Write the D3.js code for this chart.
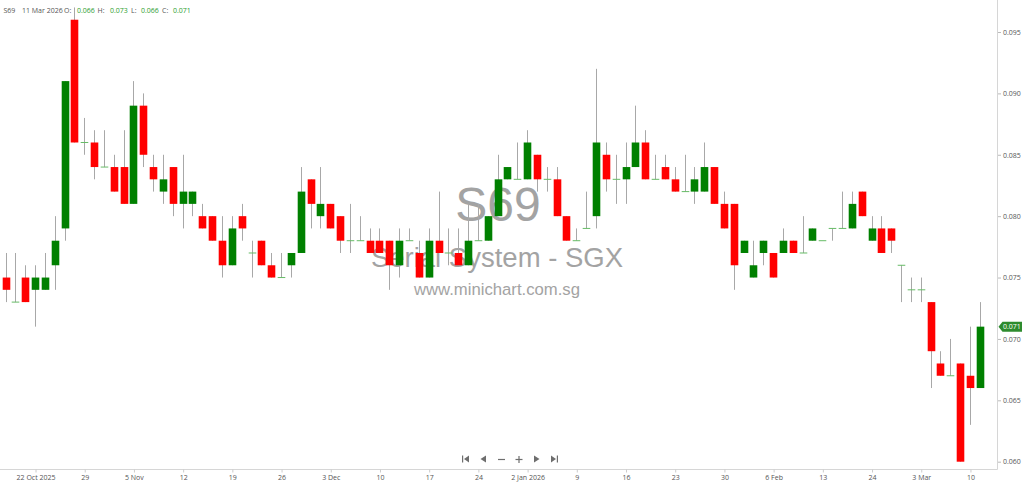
<!DOCTYPE html>
<html>
<head>
<meta charset="utf-8">
<script src="https://cdn.jsdelivr.net/npm/d3@7"></script>
<style>
  html, body { margin: 0; padding: 0; background: #fff; }
  svg { display: block; }
  .tick text { font-family: "Open Sans", "Liberation Sans", sans-serif; }
</style>
</head>
<body>
<svg id="chart" width="1024" height="484"></svg>
<script>
// ---------------- data ----------------
const symbol = "S69";
const companyName = "Serial System - SGX";
const siteName = "www.minichart.com.sg";
const lastDate = "11 Mar 2026";

const opens  = [0.075,0.073,0.075,0.074,0.074,0.076,0.079,0.096,0.086,0.086,
                0.084,0.084,0.084,0.081,0.089,0.084,0.082,0.084,0.081,0.081,
                0.080,0.080,0.078,0.076,0.080,0.077,0.078,0.076,0.075,0.076,
                0.077,0.083,0.080,0.081,0.080,0.078,0.078,0.078,0.078,0.078,
                0.076,0.078,0.077,0.075,0.078,0.077,0.077,0.076,0.078,0.078,
                0.080,0.083,0.083,0.083,0.085,0.083,0.083,0.080,0.078,0.079,
                0.080,0.085,0.083,0.083,0.084,0.086,0.083,0.084,0.083,0.082,
                0.082,0.082,0.084,0.081,0.081,0.077,0.075,0.077,0.077,0.077,
                0.078,0.077,0.078,0.078,0.079,0.079,0.079,0.082,0.078,0.079,
                0.079,0.076,0.074,0.074,0.073,0.068,0.067,0.068,0.067,0.066];
const highs  = [0.077,0.077,0.076,0.076,0.077,0.080,0.091,0.097,0.088,0.087,
                0.087,0.085,0.087,0.091,0.090,0.085,0.085,0.084,0.085,0.082,
                0.081,0.080,0.080,0.080,0.081,0.078,0.078,0.077,0.077,0.077,
                0.084,0.083,0.084,0.081,0.080,0.081,0.080,0.079,0.079,0.078,
                0.079,0.079,0.078,0.079,0.082,0.079,0.079,0.081,0.081,0.080,
                0.085,0.084,0.086,0.087,0.085,0.084,0.084,0.080,0.079,0.082,
                0.092,0.086,0.085,0.086,0.089,0.087,0.085,0.085,0.084,0.085,
                0.084,0.086,0.084,0.082,0.081,0.078,0.078,0.078,0.077,0.079,
                0.078,0.080,0.079,0.078,0.079,0.082,0.082,0.082,0.080,0.080,
                0.079,0.076,0.075,0.075,0.073,0.069,0.070,0.068,0.071,0.073];
const lows   = [0.073,0.073,0.073,0.071,0.074,0.074,0.078,0.086,0.085,0.083,
                0.084,0.082,0.081,0.081,0.084,0.082,0.081,0.080,0.079,0.080,
                0.079,0.078,0.075,0.076,0.078,0.075,0.076,0.075,0.075,0.075,
                0.077,0.079,0.079,0.079,0.077,0.077,0.078,0.077,0.077,0.074,
                0.075,0.078,0.075,0.075,0.077,0.076,0.076,0.076,0.078,0.078,
                0.080,0.083,0.083,0.083,0.082,0.082,0.080,0.078,0.078,0.079,
                0.079,0.082,0.081,0.081,0.084,0.083,0.083,0.083,0.082,0.082,
                0.081,0.082,0.081,0.079,0.074,0.077,0.075,0.076,0.075,0.077,
                0.077,0.077,0.078,0.078,0.078,0.079,0.079,0.080,0.078,0.077,
                0.077,0.073,0.073,0.073,0.066,0.067,0.067,0.060,0.063,0.066];
const closes = [0.074,0.073,0.073,0.075,0.075,0.078,0.091,0.086,0.086,0.084,
                0.084,0.082,0.081,0.089,0.085,0.083,0.083,0.081,0.082,0.082,
                0.079,0.078,0.076,0.079,0.079,0.077,0.076,0.075,0.075,0.077,
                0.082,0.081,0.081,0.079,0.078,0.078,0.078,0.077,0.077,0.076,
                0.078,0.078,0.075,0.078,0.077,0.077,0.076,0.078,0.078,0.080,
                0.083,0.084,0.083,0.086,0.083,0.083,0.080,0.078,0.078,0.079,
                0.086,0.083,0.083,0.084,0.086,0.083,0.083,0.083,0.082,0.082,
                0.083,0.084,0.081,0.079,0.076,0.078,0.076,0.078,0.075,0.078,
                0.077,0.077,0.079,0.078,0.079,0.079,0.081,0.080,0.079,0.077,
                0.078,0.076,0.074,0.074,0.069,0.067,0.067,0.060,0.066,0.071];

// x-axis ticks: index of the trading day in the series, and its label
const xTickIndex  = [3,8,13,18,23,28,33,38,43,48,53,58,63,68,73,78,83,88,93,98];
const xTickLabels = ["22 Oct 2025","29","5 Nov","12","19","26","3 Dec","10","17","24",
                     "2 Jan 2026","9","16","23","30","6 Feb","13","24","3 Mar","10"];
const yTickValues = [0.060,0.065,0.070,0.075,0.080,0.085,0.090,0.095];

// ---------------- drawing ----------------
const candles = opens.map((o, i) => ({ i, o, h: highs[i], l: lows[i], c: closes[i] }));

const svg = d3.select("#chart");
const W = 1024, H = 484;
const axisX = 997.5, axisY = 469.5;

const x = d3.scaleLinear().domain([0, candles.length - 1]).range([5.5, 979.8]);
const y = d3.scaleLinear().domain([0.060, 0.095]).range([461.7, 32]);

const RED = "#ff0000", GREEN = "#008000", WICK = "#a8a8a8", DASH = "#66bb66";
const FONT = '"Open Sans", "Liberation Sans", sans-serif';
const bodyW = 7.6;

// watermark (behind candles)
const wm = svg.append("g").attr("fill", "#a3a3a3")
  .attr("font-family", '"Liberation Sans", Arial, sans-serif')
  .attr("text-anchor", "middle");
wm.append("text").attr("x", 498).attr("y", 221).attr("font-size", 48).text(symbol);
wm.append("text").attr("x", 497).attr("y", 267).attr("font-size", 27.5).text(companyName);
wm.append("text").attr("x", 497).attr("y", 295).attr("font-size", 16.7).text(siteName);

// frame lines
svg.append("line").attr("x1", axisX).attr("x2", axisX).attr("y1", 0).attr("y2", axisY)
  .attr("stroke", "#d6d6d6").attr("stroke-width", 1);
svg.append("line").attr("x1", 0).attr("x2", axisX).attr("y1", axisY).attr("y2", axisY)
  .attr("stroke", "#d6d6d6").attr("stroke-width", 1);

// candles
const g = svg.append("g");
const cx = d => Math.round(x(d.i)) + 0.5;

g.selectAll("line.wick").data(candles).join("line")
  .attr("class", "wick")
  .attr("x1", cx).attr("x2", cx)
  .attr("y1", d => y(d.h)).attr("y2", d => y(d.l))
  .attr("stroke", WICK).attr("stroke-width", 1);

g.selectAll("rect.body").data(candles.filter(d => d.o !== d.c)).join("rect")
  .attr("class", "body")
  .attr("x", d => cx(d) - bodyW / 2)
  .attr("width", bodyW)
  .attr("y", d => y(Math.max(d.o, d.c)))
  .attr("height", d => Math.abs(y(d.o) - y(d.c)))
  .attr("fill", d => d.c > d.o ? GREEN : RED);

g.selectAll("line.dash").data(candles.filter(d => d.o === d.c)).join("line")
  .attr("class", "dash")
  .attr("x1", d => cx(d) - bodyW / 2).attr("x2", d => cx(d) + bodyW / 2)
  .attr("y1", d => y(d.o)).attr("y2", d => y(d.o))
  .attr("stroke", DASH).attr("stroke-width", 1);

// y axis (right)
const yAxis = d3.axisRight(y).tickValues(yTickValues).tickSize(3).tickPadding(2)
  .tickFormat(d3.format(".3f"));
const yg = svg.append("g").attr("transform", `translate(${axisX + 0.5},0)`).call(yAxis);
yg.select(".domain").remove();
yg.selectAll(".tick line").attr("stroke", "#bbb");
yg.selectAll(".tick text").attr("fill", "#555").attr("font-size", 7).attr("font-family", FONT);

// x axis (bottom)
const xAxis = d3.axisBottom(x).tickValues(xTickIndex).tickSize(3).tickPadding(2.5)
  .tickFormat((d, k) => xTickLabels[k]);
const xg = svg.append("g").attr("transform", `translate(0.5,${axisY})`).call(xAxis);
xg.select(".domain").remove();
xg.selectAll(".tick line").attr("stroke", "#ccc");
xg.selectAll(".tick text").attr("fill", "#555").attr("font-size", 7).attr("font-family", FONT);

// current price flag
const last = candles[candles.length - 1];
const py = y(last.c);
const flag = svg.append("g");
flag.append("path")
  .attr("d", `M${axisX + 1},${py} L${axisX + 5},${py - 5} L${W - 2},${py - 5} L${W - 2},${py + 5} L${axisX + 5},${py + 5} Z`)
  .attr("fill", "#2e8b2e");
flag.append("text").attr("x", axisX + 5.5).attr("y", py + 2.5)
  .attr("fill", "#fff").attr("font-size", 7).attr("font-family", FONT)
  .text(d3.format(".3f")(last.c));

// header
const hdr = svg.append("g").attr("font-family", FONT).attr("font-size", 7);
const fmt = d3.format(".3f");
const parts = [
  { t: symbol, x: 3.5, c: "#555" },
  { t: lastDate, x: 22, c: "#555" },
  { t: "O:", x: 64, c: "#555" },
  { t: fmt(last.o), x: 77, c: "#2e9e2e" },
  { t: "H:", x: 97.5, c: "#555" },
  { t: fmt(last.h), x: 110, c: "#2e9e2e" },
  { t: "L:", x: 131, c: "#555" },
  { t: fmt(last.l), x: 141, c: "#2e9e2e" },
  { t: "C:", x: 162, c: "#555" },
  { t: fmt(last.c), x: 173, c: "#2e9e2e" }
];
hdr.selectAll("text").data(parts).join("text")
  .attr("x", d => d.x).attr("y", 12.5).attr("fill", d => d.c).text(d => d.t);

// navigation controls
const nav = svg.append("g").attr("fill", "#6e6e6e").attr("stroke", "#6e6e6e");
const ny = 459;
// first
nav.append("rect").attr("x", 462).attr("y", ny - 3.5).attr("width", 1.2).attr("height", 7).attr("stroke", "none");
nav.append("path").attr("d", `M464,${ny} L469,${ny - 3.5} L469,${ny + 3.5} Z`).attr("stroke", "none");
// prev
nav.append("path").attr("d", `M480.5,${ny} L486,${ny - 3.5} L486,${ny + 3.5} Z`).attr("stroke", "none");
// zoom out
nav.append("line").attr("x1", 498).attr("x2", 505).attr("y1", ny + 0.5).attr("y2", ny + 0.5).attr("stroke-width", 1.2);
// zoom in
nav.append("line").attr("x1", 515.5).attr("x2", 522.5).attr("y1", ny + 0.5).attr("y2", ny + 0.5).attr("stroke-width", 1.2);
nav.append("line").attr("x1", 519).attr("x2", 519).attr("y1", ny - 3).attr("y2", ny + 4).attr("stroke-width", 1.2);
// next
nav.append("path").attr("d", `M539.5,${ny} L534,${ny - 3.5} L534,${ny + 3.5} Z`).attr("stroke", "none");
// last
nav.append("path").attr("d", `M556,${ny} L551,${ny - 3.5} L551,${ny + 3.5} Z`).attr("stroke", "none");
nav.append("rect").attr("x", 556.8).attr("y", ny - 3.5).attr("width", 1.2).attr("height", 7).attr("stroke", "none");
</script>
</body>
</html>
